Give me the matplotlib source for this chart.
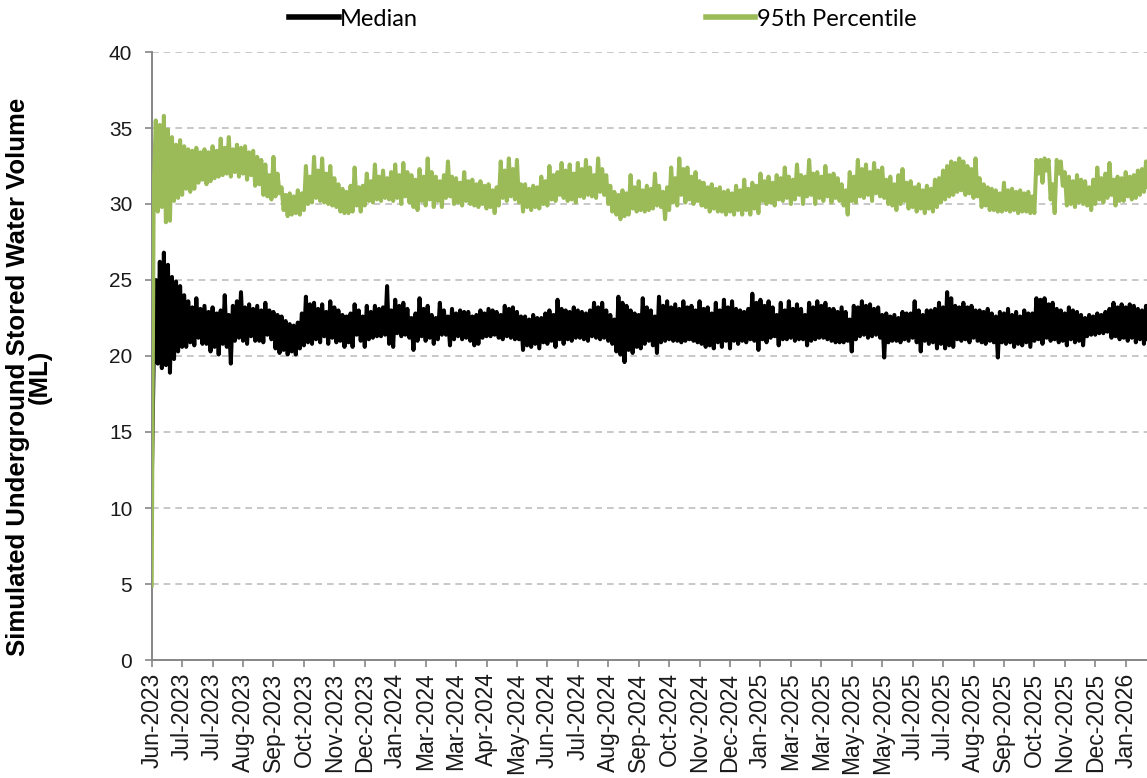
import numpy as np
import matplotlib
matplotlib.use("Agg")
import matplotlib.pyplot as plt

"""Dane odczytane z wykresu (co 2 dni od Jun-2023)"""
step_days = 2
median = [
    11.4, 20.0, 25.0, 19.5, 26.2, 19.2, 26.8, 19.4, 26.0, 18.9, 25.2, 19.8, 24.9, 20.3, 24.6, 20.6, 24.0, 20.6, 23.6, 20.9,
    23.2, 20.7, 23.8, 21.2, 23.1, 20.8, 23.3, 20.8, 22.9, 20.3, 23.2, 20.6, 22.8, 20.1, 23.0, 20.8, 24.0, 20.6, 22.7, 19.5,
    23.3, 21.0, 23.6, 21.2, 24.2, 21.0, 23.2, 20.8, 23.4, 21.3, 23.1, 21.0, 23.3, 21.0, 23.0, 20.9, 23.5, 21.4, 23.0, 21.1,
    22.9, 20.5, 22.7, 20.2, 22.6, 20.4, 22.3, 20.1, 22.1, 20.3, 22.0, 20.1, 22.2, 20.5, 22.8, 20.7, 23.9, 20.9, 23.4, 20.8,
    23.5, 21.1, 23.1, 20.9, 23.4, 21.3, 22.9, 20.8, 23.6, 21.2, 23.2, 20.9, 23.0, 21.0, 22.7, 20.6, 22.6, 20.9, 22.8, 20.6,
    23.4, 21.4, 23.0, 21.0, 22.6, 20.6, 23.3, 21.1, 22.9, 21.2, 23.3, 21.3, 23.1, 21.3, 23.2, 21.4, 24.6, 20.8, 23.0, 20.6,
    23.7, 21.5, 23.3, 21.3, 23.5, 21.4, 23.1, 21.2, 22.5, 20.4, 22.8, 21.0, 23.8, 21.3, 23.1, 21.0, 23.3, 21.2, 22.7, 20.8,
    22.5, 21.1, 23.5, 21.4, 23.0, 21.4, 22.6, 20.7, 23.1, 21.1, 22.8, 21.3, 23.0, 21.1, 22.9, 21.2, 22.9, 21.0, 22.6, 20.7,
    22.7, 20.8, 23.0, 21.2, 22.8, 21.3, 23.1, 21.3, 23.0, 21.4, 22.9, 21.2, 22.7, 21.1, 23.3, 21.3, 23.1, 21.2, 23.2, 21.1,
    22.9, 21.1, 22.6, 20.4, 22.6, 20.7, 22.4, 20.6, 22.7, 20.8, 22.5, 20.5, 22.5, 20.9, 22.8, 20.8, 23.0, 21.0, 22.7, 20.6,
    23.7, 21.1, 23.1, 20.8, 23.0, 21.1, 22.9, 21.0, 23.2, 21.2, 23.0, 21.2, 22.9, 21.1, 22.8, 21.0, 23.0, 21.3, 23.5, 21.2,
    23.2, 21.1, 23.5, 21.2, 23.0, 21.0, 22.7, 20.8, 22.4, 20.3, 23.9, 20.1, 23.5, 19.6, 23.3, 20.4, 23.0, 20.2, 22.8, 20.6,
    22.7, 20.5, 23.8, 20.8, 23.2, 21.0, 23.0, 20.7, 22.6, 20.2, 23.9, 20.9, 23.3, 21.0, 23.6, 21.1, 23.2, 21.0, 23.4, 21.0,
    23.1, 20.9, 23.6, 21.0, 23.2, 21.1, 23.3, 21.0, 23.0, 20.9, 23.6, 20.8, 23.1, 20.6, 23.2, 20.7, 22.8, 20.5, 23.5, 20.9,
    23.0, 20.6, 23.7, 21.0, 23.2, 20.5, 23.6, 21.0, 23.1, 20.8, 23.0, 21.0, 22.9, 20.9, 23.1, 21.1, 24.1, 21.0, 23.5, 20.4,
    23.7, 21.1, 23.3, 20.9, 23.6, 21.2, 23.2, 21.3, 22.7, 20.7, 23.5, 21.1, 23.0, 21.1, 23.6, 21.2, 23.1, 21.0, 23.4, 21.1,
    23.1, 21.1, 22.7, 20.7, 23.5, 21.0, 23.2, 21.1, 23.6, 21.2, 23.3, 21.2, 23.5, 21.1, 23.1, 21.0, 23.1, 20.9, 22.9, 20.9,
    23.2, 20.9, 22.9, 21.0, 22.4, 20.3, 23.3, 21.1, 23.2, 21.3, 23.6, 21.4, 23.3, 21.2, 23.4, 21.3, 23.1, 21.4, 23.2, 21.2,
    22.7, 19.9, 22.8, 20.9, 22.6, 21.0, 22.7, 21.0, 22.5, 20.9, 22.9, 21.1, 22.8, 21.0, 22.8, 21.2, 23.6, 20.9, 23.0, 20.3,
    22.7, 21.0, 23.0, 20.8, 23.0, 20.9, 23.1, 20.5, 23.5, 20.8, 23.2, 20.5, 24.2, 20.7, 23.8, 20.6, 23.3, 21.1, 23.2, 21.0,
    23.5, 21.1, 23.2, 20.9, 23.3, 21.2, 23.0, 21.0, 23.0, 20.9, 22.9, 20.8, 23.1, 21.0, 22.8, 20.9, 22.6, 19.9, 22.9, 20.9,
    22.8, 20.8, 23.1, 20.9, 22.7, 20.6, 22.9, 20.8, 22.6, 20.7, 23.0, 20.9, 22.8, 20.6, 22.8, 21.0, 23.8, 21.1, 23.7, 20.8,
    23.8, 21.2, 23.4, 21.0, 23.5, 21.1, 23.1, 20.9, 23.0, 21.0, 22.8, 20.7, 23.2, 21.1, 23.0, 20.9, 22.9, 21.0, 22.7, 20.7,
    22.5, 21.3, 22.7, 21.4, 22.6, 21.4, 22.8, 21.5, 22.7, 21.5, 22.9, 21.6, 23.1, 21.2, 23.5, 21.3, 23.2, 21.1, 23.4, 21.2,
    23.2, 21.0, 23.4, 21.2, 23.3, 20.9, 23.1, 21.1, 23.0, 20.8, 23.3, 21.1, 22.2,
]
percentile_95 = [
    4.9, 31.0, 35.5, 29.5, 35.2, 29.8, 35.8, 28.8, 34.9, 28.9, 34.4, 30.2, 33.9, 30.4, 34.2, 30.6, 33.8, 31.0, 33.6, 30.8,
    33.5, 31.0, 33.7, 31.4, 33.4, 31.6, 33.6, 31.3, 33.4, 31.5, 33.8, 31.7, 33.5, 31.8, 34.3, 31.9, 33.7, 32.0, 34.4, 31.8,
    33.6, 32.1, 33.9, 31.8, 33.7, 32.0, 33.8, 31.6, 33.4, 31.9, 33.5, 31.2, 33.1, 31.3, 32.9, 30.6, 32.6, 30.5, 31.9, 30.3,
    33.1, 30.5, 32.0, 30.7, 31.1, 29.6, 30.6, 29.2, 30.7, 29.3, 30.5, 29.4, 30.9, 29.3, 30.7, 29.6, 32.5, 30.0, 31.8, 30.1,
    33.1, 30.4, 32.2, 30.2, 33.0, 30.1, 32.0, 30.0, 32.5, 29.9, 31.7, 29.8, 31.3, 29.5, 31.0, 29.4, 30.8, 29.4, 31.2, 29.5,
    32.4, 29.9, 31.1, 29.5, 31.2, 29.9, 32.0, 30.2, 31.5, 30.1, 32.6, 30.3, 31.8, 30.2, 32.2, 30.4, 31.7, 30.3, 32.1, 30.2,
    32.6, 30.4, 31.9, 30.0, 32.7, 30.5, 32.1, 30.1, 31.9, 29.8, 31.6, 29.6, 32.3, 30.2, 31.8, 29.9, 33.0, 30.3, 32.1, 29.8,
    31.8, 30.2, 31.5, 29.8, 31.9, 30.4, 32.8, 30.5, 31.8, 30.0, 31.7, 30.1, 31.4, 29.9, 32.1, 30.2, 31.5, 30.0, 31.6, 29.9,
    31.3, 29.8, 31.5, 30.0, 31.2, 29.7, 31.3, 29.8, 30.9, 29.4, 31.1, 29.9, 32.8, 30.4, 32.2, 30.2, 33.0, 30.5, 32.3, 30.3,
    32.9, 30.1, 31.3, 29.5, 31.3, 29.8, 31.0, 29.6, 31.2, 29.8, 31.1, 29.7, 31.8, 30.0, 31.5, 29.9, 32.5, 30.3, 31.9, 30.2,
    32.1, 30.6, 32.7, 30.4, 32.2, 30.2, 32.6, 30.3, 32.0, 30.1, 32.7, 30.5, 32.3, 30.4, 32.9, 30.6, 32.4, 30.5, 31.9, 30.4,
    33.0, 30.8, 32.3, 30.6, 31.9, 30.0, 31.2, 29.5, 30.8, 29.3, 30.6, 29.0, 30.9, 29.2, 30.7, 29.3, 31.9, 29.7, 31.1, 29.5,
    31.5, 29.6, 30.9, 29.5, 31.2, 29.6, 31.0, 29.7, 32.0, 29.9, 31.2, 29.8, 30.8, 29.0, 31.1, 29.6, 32.4, 30.1, 31.7, 29.9,
    33.0, 30.6, 32.3, 30.1, 32.4, 30.3, 31.8, 30.0, 32.1, 30.2, 31.5, 29.9, 31.4, 29.8, 31.1, 29.5, 31.3, 29.7, 31.0, 29.5,
    31.1, 29.5, 30.8, 29.3, 30.9, 29.5, 30.7, 29.3, 31.2, 29.6, 30.9, 29.3, 31.6, 29.6, 31.0, 29.3, 31.4, 29.7, 31.2, 29.4,
    32.0, 30.2, 31.5, 30.0, 31.8, 30.1, 31.4, 29.9, 31.9, 30.3, 31.7, 30.2, 32.4, 30.4, 31.8, 30.0, 31.6, 30.3, 32.6, 30.6,
    31.9, 30.0, 31.8, 30.5, 32.9, 30.6, 32.0, 30.0, 32.1, 30.4, 31.8, 30.2, 32.5, 30.5, 31.9, 30.1, 32.0, 30.4, 31.7, 30.2,
    31.3, 29.9, 30.9, 29.3, 32.1, 30.2, 31.8, 30.1, 32.9, 30.5, 32.3, 30.4, 32.6, 30.6, 32.1, 30.2, 32.7, 30.7, 32.2, 30.5,
    32.4, 30.4, 31.6, 30.0, 31.8, 29.9, 31.3, 29.6, 31.9, 30.0, 32.3, 30.2, 31.4, 29.7, 31.5, 29.8, 31.1, 29.5, 31.3, 29.7,
    30.9, 29.4, 31.2, 29.7, 31.0, 29.5, 31.6, 29.8, 31.7, 30.1, 32.2, 30.3, 32.5, 30.5, 32.8, 30.6, 32.7, 30.8, 33.0, 30.9,
    32.8, 30.6, 32.5, 30.7, 32.3, 30.4, 33.0, 30.5, 31.7, 29.8, 31.3, 29.9, 31.1, 29.6, 31.0, 29.6, 30.9, 29.5, 30.7, 29.5,
    31.4, 29.6, 30.9, 29.5, 31.0, 29.6, 30.8, 29.4, 30.9, 29.5, 30.7, 29.5, 30.8, 29.4, 30.5, 29.4, 32.9, 32.0, 32.9, 31.4,
    33.0, 32.2, 32.9, 30.3, 31.3, 29.4, 32.9, 32.0, 32.8, 31.2, 32.1, 29.9, 31.8, 30.0, 31.5, 29.8, 31.9, 30.1, 31.6, 30.0,
    31.5, 29.9, 31.1, 29.6, 31.6, 30.0, 32.4, 30.3, 31.7, 30.1, 32.0, 30.4, 32.7, 30.6, 31.6, 29.9, 31.8, 30.2, 31.7, 30.2,
    32.1, 30.5, 31.8, 30.3, 31.9, 30.4, 32.2, 30.6, 32.3, 30.8, 32.8, 31.1, 32.0,
]
tick_step_days = 30
tick_labels = [
    "Jun-2023", "Jul-2023", "Jul-2023", "Aug-2023", "Sep-2023", "Oct-2023",
    "Nov-2023", "Dec-2023", "Jan-2024", "Mar-2024", "Mar-2024", "Apr-2024",
    "May-2024", "Jun-2024", "Jul-2024", "Aug-2024", "Sep-2024", "Oct-2024",
    "Nov-2024", "Dec-2024", "Jan-2025", "Mar-2025", "Mar-2025", "May-2025",
    "May-2025", "Jul-2025", "Jul-2025", "Aug-2025", "Sep-2025", "Oct-2025",
    "Nov-2025", "Dec-2025", "Jan-2026",
]

days = np.arange(len(median)) * step_days
tick_pos = np.arange(len(tick_labels)) * tick_step_days

plt.rcParams["font.family"] = ["Liberation Sans", "DejaVu Sans"]

fig = plt.figure(figsize=(11.47, 7.78), dpi=100)
ax = fig.add_axes([151.7 / 1147, 1 - 660 / 778, 1 - 151.7 / 1147, 608 / 778])

ax.plot(days, median, color="black", lw=2.9, label="Median", zorder=3)
ax.plot(days, percentile_95, color="#9BBB59", lw=2.9, label="95th Percentile", zorder=4)

ax.set_xlim(0, 981)
ax.set_ylim(0, 40)
ax.set_yticks(np.arange(0, 41, 5))
ax.set_xticks(tick_pos)
ax.set_xticklabels(tick_labels, rotation=90, fontsize=16.5, color="#1a1a1a")
ax.tick_params(axis="y", labelsize=15, labelcolor="#1a1a1a", length=5, width=1.2,
               color="#868686", pad=9, direction="out")
ax.tick_params(axis="x", length=5, width=1.2, color="#868686", pad=4, direction="out")

for v in range(5, 41, 5):
    ax.axhline(v, color="#BFBFBF", lw=1.2, ls=(0, (4, 3)), zorder=1)

for s in ["top", "right"]:
    ax.spines[s].set_visible(False)
for s in ["left", "bottom"]:
    ax.spines[s].set_color("#868686")
    ax.spines[s].set_linewidth(1.4)

fig.text(29 / 1147, 1 - 377 / 778, "Simulated Underground Stored Water Volume\n(ML)",
         rotation=90, ha="center", va="center", multialignment="center",
         fontsize=18.5, fontweight="bold", linespacing=0.85)

leg = fig.legend(loc="center left", bbox_to_anchor=(289 / 1147, 1 - 19 / 778), ncol=2,
                 frameon=False, borderpad=0, borderaxespad=0, handlelength=2.1,
                 handletextpad=0.05, columnspacing=12.2,
                 prop={"family": ["Lato", "DejaVu Sans"], "size": 17})
for line in leg.get_lines():
    line.set_linewidth(4)

fig.savefig("out.png", dpi=100)
